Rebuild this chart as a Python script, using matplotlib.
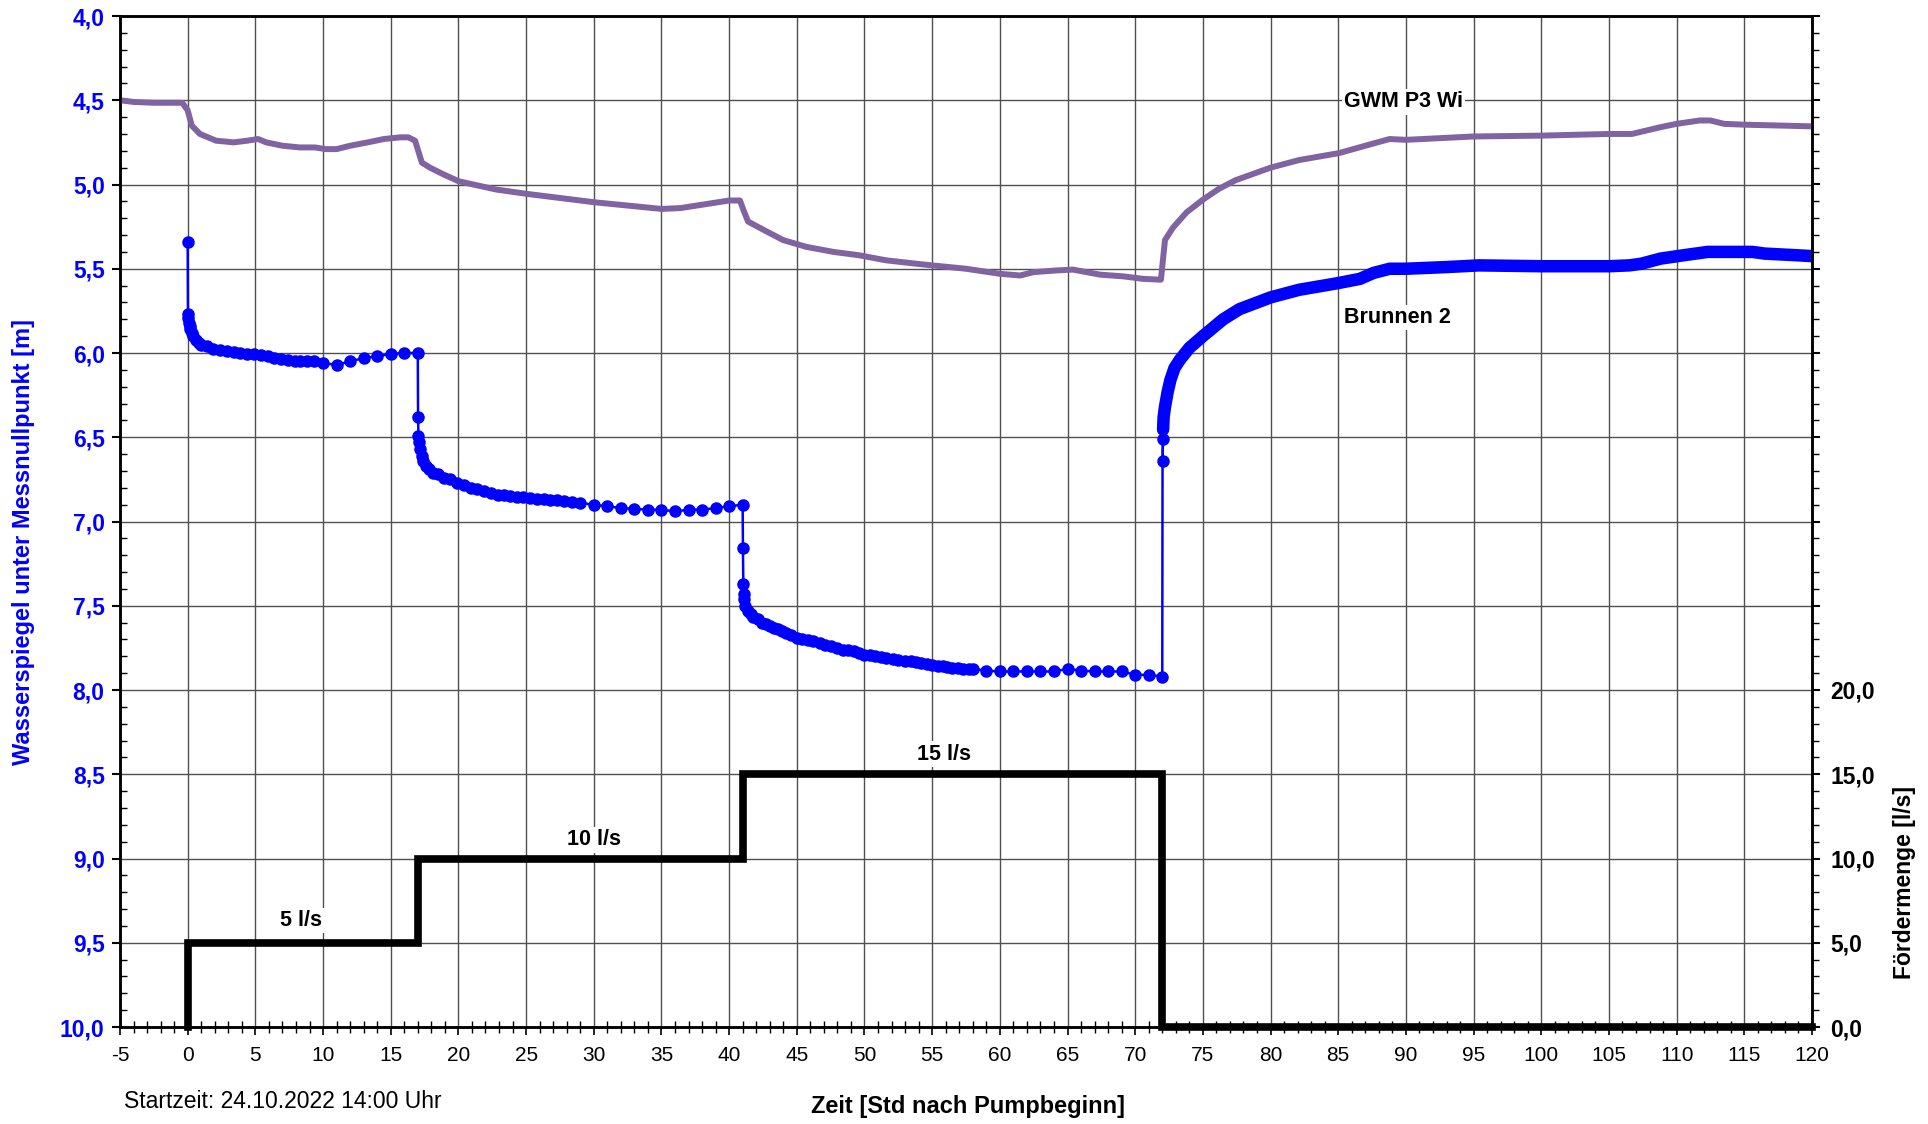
import numpy as np
import matplotlib
matplotlib.use("Agg")
import matplotlib.pyplot as plt
from matplotlib.ticker import MultipleLocator, FuncFormatter

plt.rcParams['font.family'] = ['Liberation Sans', 'DejaVu Sans']
plt.rcParams['axes.unicode_minus'] = False

# Brunnen 2 - pumping phase (hours after start, water level in m)
brunnen_t = [0, 0.02, 0.05, 0.1, 0.15, 0.2, 0.3, 0.4, 0.6, 0.8, 1.0, 1.4, 1.9, 2.4, 2.9, 3.4,
             3.9, 4.4, 4.9, 5.4, 5.9, 6.4, 6.9, 7.4, 7.9, 8.3, 8.8, 9.3, 10.0, 11.0, 12.0,
             13.0, 14.0, 15.0, 16.0, 17.0,
             17.02, 17.05, 17.1, 17.2, 17.3, 17.4, 17.6, 17.8, 18.1, 18.5, 18.9, 19.4, 19.9,
             20.4, 20.9, 21.4, 21.9, 22.4, 22.9, 23.4, 23.8, 24.3, 24.8, 25.3, 25.8, 26.3,
             26.8, 27.3, 27.8, 28.4, 29.0, 30.0, 31.0, 32.0, 33.0, 34.0, 35.0, 36.0, 37.0,
             38.0, 39.0, 40.0, 41.0,
             41.02, 41.05, 41.08, 41.12, 41.2, 41.4, 41.6, 41.8, 42.1, 42.4, 42.7, 43.0, 43.3,
             43.6, 43.9, 44.2, 44.6, 45.0, 45.4, 45.8, 46.2, 46.7, 47.1, 47.5, 48.0, 48.4,
             48.8, 49.2, 49.6, 50.0, 50.4, 50.8, 51.2, 51.6, 52.1, 52.5, 53.0, 53.4, 53.8,
             54.2, 54.6, 55.0, 55.4, 55.8, 56.1, 56.5, 56.9, 57.3, 57.7, 58.0, 59.0, 60.0,
             61.0, 62.0, 63.0, 64.0, 65.0, 66.0, 67.0, 68.0, 69.0, 70.0, 71.0, 72.0,
             72.02, 72.05]
brunnen_h = [5.34, 5.77, 5.79, 5.82, 5.84, 5.86, 5.88, 5.90, 5.92, 5.94, 5.95, 5.96, 5.975,
             5.985, 5.99, 5.996, 6.0, 6.006, 6.008, 6.01, 6.02, 6.03, 6.035, 6.04, 6.045,
             6.05, 6.05, 6.05, 6.06, 6.07, 6.05, 6.03, 6.02, 6.005, 6.0, 6.0,
             6.38, 6.49, 6.53, 6.57, 6.61, 6.64, 6.67, 6.69, 6.71, 6.72, 6.74, 6.75, 6.77,
             6.785, 6.80, 6.81, 6.82, 6.83, 6.84, 6.845, 6.85, 6.853, 6.855, 6.86, 6.865,
             6.868, 6.87, 6.875, 6.88, 6.885, 6.89, 6.90, 6.91, 6.92, 6.925, 6.93, 6.93,
             6.94, 6.93, 6.93, 6.92, 6.91, 6.90,
             7.16, 7.37, 7.43, 7.46, 7.50, 7.53, 7.55, 7.565, 7.58, 7.60, 7.61, 7.62, 7.63,
             7.64, 7.65, 7.66, 7.675, 7.69, 7.70, 7.705, 7.71, 7.72, 7.73, 7.74, 7.75, 7.76,
             7.765, 7.77, 7.78, 7.79, 7.795, 7.80, 7.805, 7.81, 7.815, 7.82, 7.825, 7.83,
             7.835, 7.84, 7.845, 7.85, 7.855, 7.86, 7.865, 7.87, 7.872, 7.873, 7.875, 7.875,
             7.885, 7.89, 7.89, 7.89, 7.89, 7.89, 7.875, 7.885, 7.89, 7.89, 7.89, 7.91, 7.91,
             7.92, 6.64, 6.51]

# Brunnen 2 - recovery (dense logger data)
recovery_t = [72.05, 72.06, 72.1, 72.2, 72.4, 72.6, 72.9, 73.3, 74.0, 75.0, 76.5, 77.7, 80.0,
              82.1, 85.0, 86.6, 87.6, 88.8, 90.0, 93.0, 95.4, 100.0, 105.0, 106.5, 107.4,
              108.8, 110.5, 112.3, 115.6, 116.5, 118.9, 120.0]
recovery_h = [6.51, 6.455, 6.38, 6.32, 6.23, 6.16, 6.09, 6.04, 5.97, 5.90, 5.80, 5.74, 5.67,
              5.625, 5.585, 5.56, 5.525, 5.50, 5.50, 5.49, 5.48, 5.485, 5.485, 5.48, 5.47,
              5.44, 5.42, 5.40, 5.40, 5.41, 5.42, 5.425]

# GWM P3 Wi
gwm_t = [-5, -4, -2.5, -0.4, 0, 0.3, 0.9, 2.1, 3.4, 4.4, 5.2, 5.8, 7, 8.3, 9.4, 10.2, 11, 12,
         13.3, 14.5, 15.7, 16.3, 16.8, 17.3, 17.9, 18.9, 20, 21.1, 22.8, 25, 27.5, 30, 32.5,
         35, 36.4, 38, 40, 40.8, 41.1, 41.4, 42.8, 44, 45.7, 47.7, 49.6, 51.6, 53.8, 55, 57.5,
         60, 61.5, 62.5, 64.2, 65.4, 67.4, 69.1, 70.6, 71.9, 72.2, 72.8, 73.8, 75, 76.2, 77.4,
         80, 82.1, 84.6, 85, 87, 88.8, 90, 92.5, 95, 100, 105, 106.7, 108.8, 110, 111.7,
         112.5, 113.5, 115, 117.6, 120]
gwm_h = [4.50, 4.51, 4.515, 4.515, 4.56, 4.65, 4.70, 4.74, 4.75, 4.74, 4.73, 4.75, 4.77, 4.78,
         4.78, 4.79, 4.79, 4.77, 4.75, 4.73, 4.72, 4.72, 4.74, 4.87, 4.90, 4.94, 4.98, 5.0,
         5.03, 5.055, 5.08, 5.105, 5.125, 5.145, 5.14, 5.12, 5.095, 5.095, 5.16, 5.22, 5.28,
         5.33, 5.37, 5.40, 5.42, 5.45, 5.47, 5.48, 5.50, 5.53, 5.54, 5.52, 5.51, 5.505, 5.535,
         5.545, 5.56, 5.565, 5.33, 5.255, 5.165, 5.09, 5.025, 4.975, 4.90, 4.855, 4.82,
         4.815, 4.77, 4.73, 4.735, 4.725, 4.715, 4.71, 4.70, 4.70, 4.66, 4.64, 4.62, 4.62,
         4.64, 4.645, 4.65, 4.655]

# pumping rate steps
flow_t = [0, 0, 17, 41, 72, 120]
flow_q = [0, 5, 10, 15, 0, 0]
flow_labels = ["5 l/s", "10 l/s", "15 l/s"]
flow_label_x = [8.4, 30.0, 55.9]
flow_label_q = [6.3, 11.1, 16.2]

BLUE = "#0000FF"
PURPLE = "#8064A2"

comma = FuncFormatter(lambda v, p: f"{v:.1f}".replace(".", ","))

fig = plt.figure(figsize=(19.28, 11.24), dpi=100)
ax = fig.add_axes((120/1928, 97/1124, 1692/1928, 1011/1124))
ax.set_xlim(-5, 120)
ax.set_ylim(10, 4)
ax.set_axisbelow(True)

ax.xaxis.set_major_locator(MultipleLocator(5))
ax.xaxis.set_minor_locator(MultipleLocator(1))
ax.yaxis.set_major_locator(MultipleLocator(0.5))
ax.yaxis.set_minor_locator(MultipleLocator(0.1))
ax.yaxis.set_major_formatter(comma)
ax.grid(True, which="major", color="#505050", lw=1.0)

ax.tick_params(axis="y", which="major", direction="out", length=6, width=1.5,
               labelsize=16.5, labelcolor=BLUE, pad=5)
ax.tick_params(axis="y", which="minor", direction="in", length=5, width=1)
ax.tick_params(axis="x", which="major", direction="out", length=6, width=1.2,
               labelsize=15, pad=8)
ax.tick_params(axis="x", which="minor", direction="inout", length=8, width=1)
for lab in ax.get_yticklabels():
    lab.set_fontweight("bold")
for sp in ax.spines.values():
    sp.set_linewidth(1.8)

ax.plot(gwm_t, gwm_h, color=PURPLE, lw=4.3, zorder=3)
ax.plot(brunnen_t, brunnen_h, color=BLUE, lw=1.8, marker="o", ms=8, zorder=4)
ax.plot([brunnen_t[-2], brunnen_t[-1]] + recovery_t[1:], [brunnen_h[-2], brunnen_h[-1]] + recovery_h[1:],
        color=BLUE, lw=1.8, zorder=4)
ax.plot(recovery_t[1:], recovery_h[1:], color=BLUE, lw=9, solid_capstyle="round",
        solid_joinstyle="round", zorder=4)

box = dict(facecolor="white", edgecolor="none", pad=1.5)
ax.text(85.4, 4.51, "GWM P3 Wi", fontsize=15.5, fontweight="bold", ha="left", va="center",
        bbox=box, zorder=5)
ax.text(85.4, 5.79, "Brunnen 2", fontsize=15.5, fontweight="bold", ha="left", va="center",
        bbox=box, zorder=5)

ax.set_ylabel("Wasserspiegel unter Messnullpunkt [m]", color=BLUE, fontsize=17,
              fontweight="bold")
ax.yaxis.set_label_coords(-0.05, 0.48)

ax2 = ax.twinx()
ax2.set_ylim(0, 60)
ax2.set_yticks(np.arange(0, 61, 5))
ax2.set_yticklabels([f"{v:.1f}".replace(".", ",") if v <= 20 else "" for v in range(0, 61, 5)])
ax2.yaxis.set_minor_locator(MultipleLocator(1))
ax2.tick_params(axis="y", which="major", direction="out", length=6, width=1.5,
                labelsize=16.5, pad=7)
ax2.tick_params(axis="y", which="minor", direction="out", length=5, width=1)
for lab in ax2.get_yticklabels():
    lab.set_fontweight("bold")
for sp in ax2.spines.values():
    sp.set_linewidth(1.8)

ax2.step(flow_t, flow_q, where="post", color="black", lw=5.5, zorder=3,
         solid_joinstyle="miter", clip_on=False)
for lab, x, q in zip(flow_labels, flow_label_x, flow_label_q):
    ax2.text(x, q, lab, fontsize=15.5, fontweight="bold", ha="center", va="center",
             bbox=box, zorder=5)

ax2.set_ylabel("Fördermenge [l/s]", fontsize=16.5, fontweight="bold")
ax2.yaxis.set_label_coords(1.048, 0.143)

fig.text(968/1928, 1 - 1106/1124, "Zeit [Std nach Pumpbeginn]", fontsize=17,
         fontweight="bold", ha="center", va="center")
fig.text(124/1928, 1 - 1101/1124, "Startzeit: 24.10.2022 14:00 Uhr", fontsize=16.5,
         ha="left", va="center")

fig.savefig("out.png", dpi=100)
